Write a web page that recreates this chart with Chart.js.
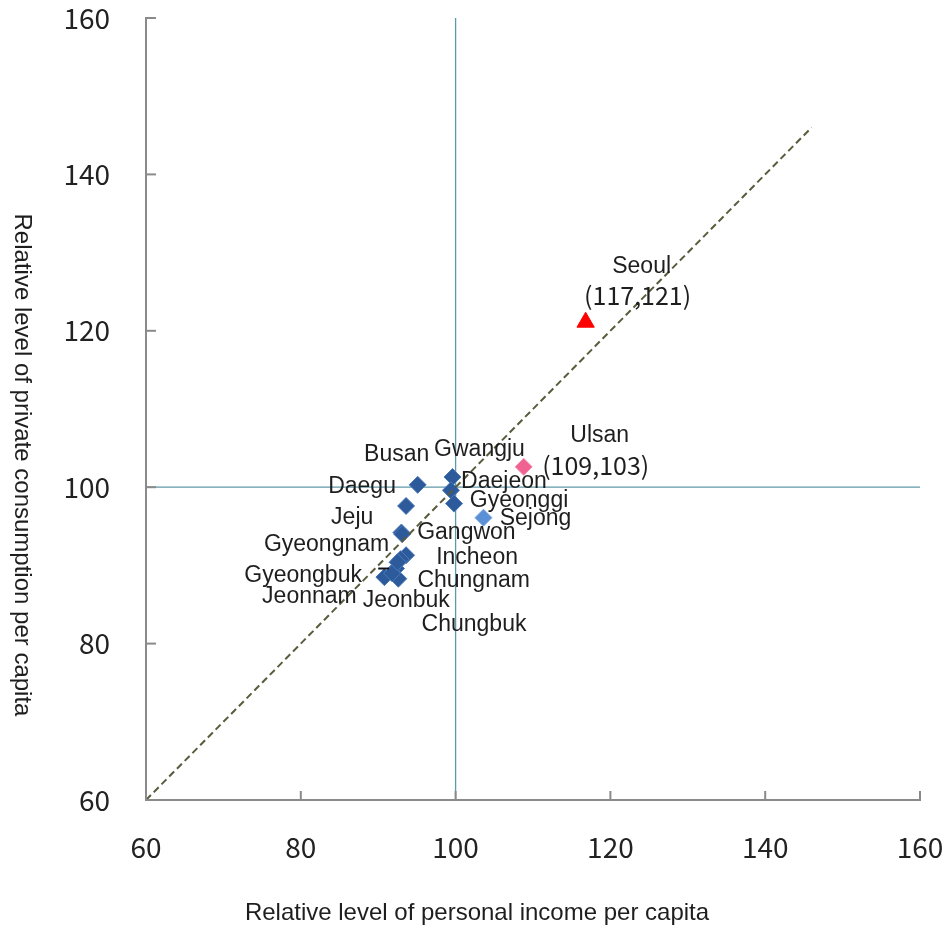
<!DOCTYPE html>
<html>
<head>
<meta charset="utf-8">
<script src="https://cdn.jsdelivr.net/npm/chart.js@4/dist/chart.umd.min.js"></script>
<style>
  html, body { margin: 0; padding: 0; background: #fff; }
  #wrap { width: 945px; height: 933px; }
</style>
</head>
<body>
<div id="wrap"><canvas id="chart"></canvas></div>
<script>
// regions (dark blue diamonds)
var regionNames = ['Busan', 'Daegu', 'Incheon', 'Gwangju', 'Daejeon', 'Gyeonggi', 'Gangwon',
    'Chungbuk', 'Chungnam', 'Jeonbuk', 'Jeonnam', 'Gyeongbuk', 'Gyeongnam', 'Jeju'];
var regionIncome = [95.1, 93.6, 93.6, 99.6, 99.4, 99.8, 93.0, 92.3, 92.9, 92.6, 90.8, 91.8, 92.5, 93.1];
var regionConsumption = [100.3, 97.6, 91.3, 101.3, 99.6, 97.9, 94.2, 89.6, 90.8, 88.3, 88.5, 89.0, 90.4, 94.0];

// highlighted regions
var sejongPoint = [103.6, 96.1];
var ulsanPoint = [108.8, 102.6];
var seoulPoint = [116.8, 121.1];

// axes
var tickValues = [60, 80, 100, 120, 140, 160];
var diagonal = [[60, 60], [146, 146]];
var leader = [[90.0, 89.6], [91.4, 89.6]];

var xTitle = 'Relative level of personal income per capita';
var yTitle = 'Relative level of private consumption per capita';

// label offsets in px from the marker (text centre)
var labelOffsets = {
    Busan: [-21, -30], Gwangju: [27, -27], Daegu: [-44, -19], Daejeon: [53, -9],
    Gyeonggi: [65, -3], Sejong: [52, 1], Gangwon: [65, 0], Jeju: [-50, -16],
    Incheon: [71, 2], Chungnam: [73, 22], Gyeongnam: [-71, -18], Gyeongbuk: [-89, 2],
    Jeonnam: [-75, 20], Jeonbuk: [8, 22], Chungbuk: [78, 56]
};

function toXY(pair) { return { x: pair[0], y: pair[1] }; }

var regionData = regionNames.map(function (n, i) {
    return { x: regionIncome[i], y: regionConsumption[i], name: n };
});

var labelPlugin = {
    id: 'labels',
    afterDatasetsDraw: function (chart) {
        var ctx = chart.ctx;
        var xs = chart.scales.x, ys = chart.scales.y;
        ctx.save();
        ctx.textAlign = 'center';
        ctx.textBaseline = 'middle';
        ctx.fillStyle = '#1e1e1e';
        ctx.font = '23px "Liberation Sans", Arial, sans-serif';
        regionData.forEach(function (p) {
            var off = labelOffsets[p.name];
            ctx.fillText(p.name, xs.getPixelForValue(p.x) + off[0], ys.getPixelForValue(p.y) + off[1]);
        });
        var sx = xs.getPixelForValue(sejongPoint[0]), sy = ys.getPixelForValue(sejongPoint[1]);
        ctx.fillText('Sejong', sx + labelOffsets.Sejong[0], sy + labelOffsets.Sejong[1]);

        var ux = xs.getPixelForValue(ulsanPoint[0]), uy = ys.getPixelForValue(ulsanPoint[1]);
        ctx.fillText('Ulsan', ux + 76, uy - 31);
        var px = xs.getPixelForValue(seoulPoint[0]), py = ys.getPixelForValue(seoulPoint[1]);
        ctx.fillText('Seoul', px + 56, py - 56);

        ctx.font = '25px "Noto Sans CJK KR", sans-serif';
        ctx.fillText('(' + Math.round(ulsanPoint[0]) + ',' + Math.round(ulsanPoint[1]) + ')', ux + 72, uy - 1);
        ctx.fillText('(' + Math.round(seoulPoint[0]) + ',' + Math.round(seoulPoint[1]) + ')', px + 52, py - 27);

        // inward tick marks
        ctx.strokeStyle = '#8a8a8a';
        ctx.lineWidth = 2;
        tickValues.forEach(function (v) {
            var tx = xs.getPixelForValue(v);
            ctx.beginPath(); ctx.moveTo(tx, xs.top); ctx.lineTo(tx, xs.top - 9); ctx.stroke();
            var ty = ys.getPixelForValue(v);
            ctx.beginPath(); ctx.moveTo(ys.right, ty); ctx.lineTo(ys.right + 10, ty); ctx.stroke();
        });

        // axis titles
        ctx.fillStyle = '#1e1e1e';
        ctx.font = '24px "Liberation Sans", Arial, sans-serif';
        ctx.fillText(xTitle, 477, 913);
        ctx.translate(22, 465);
        ctx.rotate(Math.PI / 2);
        ctx.fillText(yTitle, 0, 0);
        ctx.restore();
    }
};

var refLinePlugin = {
    id: 'refLines',
    beforeDatasetsDraw: function (chart) {
        var ctx = chart.ctx, a = chart.chartArea;
        var x100 = chart.scales.x.getPixelForValue(100);
        var y100 = chart.scales.y.getPixelForValue(100);
        ctx.save();
        ctx.strokeStyle = '#5f98a8';
        ctx.lineWidth = 1.3;
        ctx.beginPath(); ctx.moveTo(x100, a.top); ctx.lineTo(x100, a.bottom); ctx.stroke();
        ctx.beginPath(); ctx.moveTo(a.left, y100); ctx.lineTo(a.right, y100); ctx.stroke();
        ctx.restore();
    }
};

var ctx = document.getElementById('chart');
var chart = new Chart(ctx, {
    type: 'scatter',
    data: {
        datasets: [{
            data: diagonal.map(toXY),
            showLine: true,
            borderColor: '#5a5a3c',
            borderWidth: 2,
            borderDash: [7, 4],
            pointRadius: 0
        }, {
            data: leader.map(toXY),
            showLine: true,
            borderColor: '#111',
            borderWidth: 2,
            pointRadius: 0
        }, {
            data: regionData,
            pointStyle: 'rectRot',
            pointRadius: 8.5,
            backgroundColor: '#2d5a9a',
            borderColor: '#4a78b8',
            borderWidth: 1
        }, {
            data: [toXY(sejongPoint)],
            pointStyle: 'rectRot',
            pointRadius: 8.5,
            backgroundColor: '#5b8fd6',
            borderColor: '#7aa6e0',
            borderWidth: 1
        }, {
            data: [toXY(ulsanPoint)],
            pointStyle: 'rectRot',
            pointRadius: 8.5,
            backgroundColor: '#f06292',
            borderColor: '#f58ab0',
            borderWidth: 1
        }, {
            data: [toXY(seoulPoint)],
            pointStyle: 'triangle',
            pointRadius: 10,
            backgroundColor: '#ff0000',
            borderColor: '#ff0000',
            borderWidth: 1
        }]
    },
    options: {
        responsive: true,
        maintainAspectRatio: false,
        animation: false,
        layout: { padding: { top: 18, right: 25, left: 0, bottom: 0 } },
        plugins: { legend: { display: false }, tooltip: { enabled: false } },
        scales: {
            x: {
                min: 60, max: 160,
                afterBuildTicks: function (s) { s.ticks = tickValues.map(function (v) { return { value: v }; }); },
                afterFit: function (s) { s.height = 133; s.paddingLeft = 0; s.paddingRight = 0; },
                grid: { display: false, drawTicks: false },
                border: { display: true, color: '#8a8a8a', width: 2 },
                ticks: { padding: 31, color: '#222', font: { family: '"Noto Sans CJK KR", sans-serif', size: 28 } }
            },
            y: {
                min: 60, max: 160,
                afterBuildTicks: function (s) { s.ticks = tickValues.map(function (v) { return { value: v }; }); },
                afterFit: function (s) { s.width = 146; s.paddingTop = 0; s.paddingBottom = 0; },
                grid: { display: false, drawTicks: false },
                border: { display: true, color: '#8a8a8a', width: 2 },
                ticks: { padding: 36, color: '#222', font: { family: '"Noto Sans CJK KR", sans-serif', size: 28 } }
            }
        }
    },
    plugins: [refLinePlugin, labelPlugin]
});
</script>
</body>
</html>
